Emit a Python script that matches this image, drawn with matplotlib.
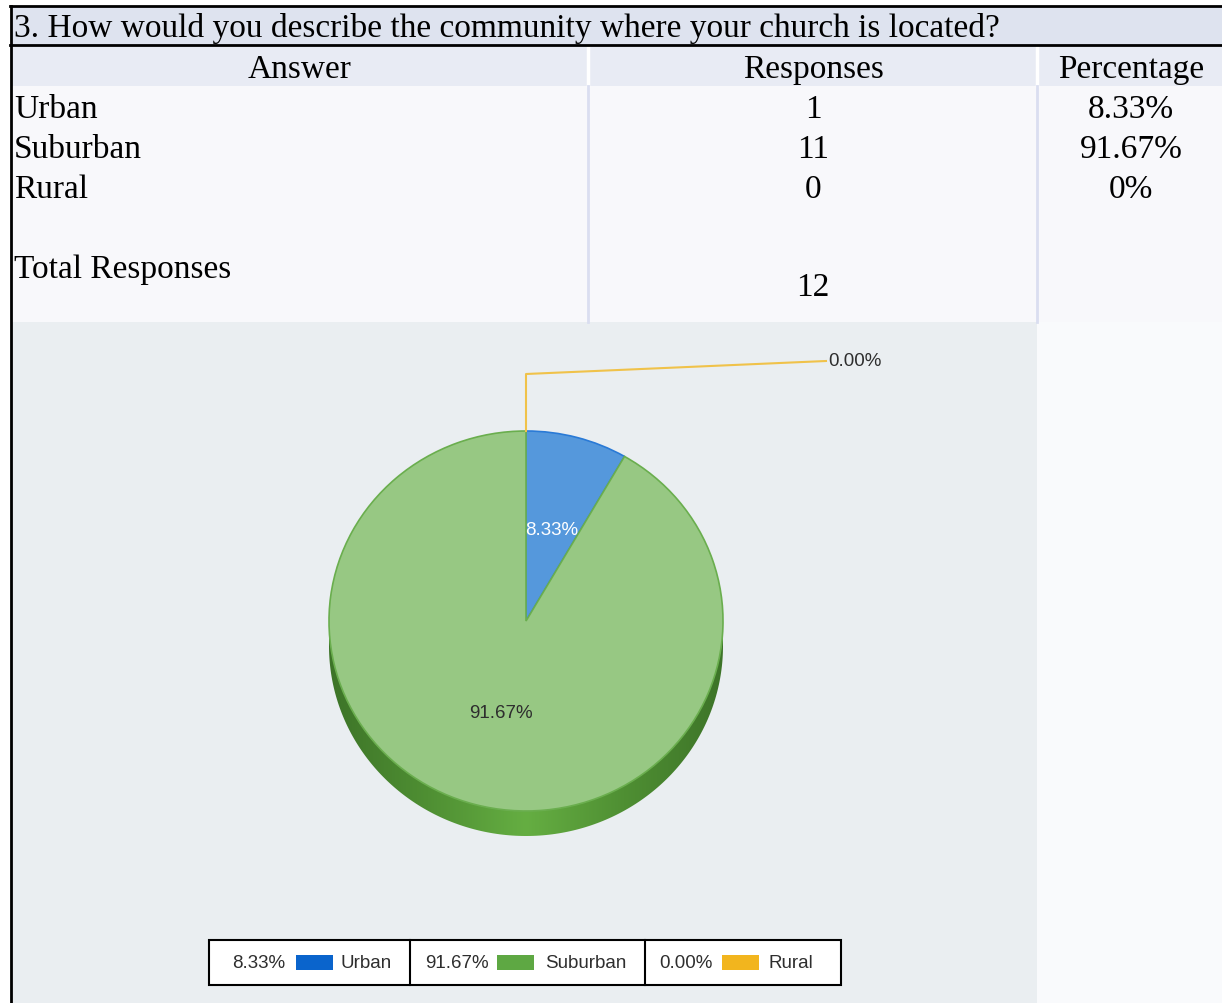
import numpy as np
import matplotlib.pyplot as plt
from matplotlib.patches import Rectangle, Polygon
from matplotlib.colors import LinearSegmentedColormap

question = "3. How would you describe the community where your church is located?"
columns = ["Answer", "Responses", "Percentage"]
answers = ["Urban", "Suburban", "Rural"]
responses = [1, 11, 0]
total = sum(responses)

face_colors = ["#5598dc", "#97c883", "#f3c25a"]
legend_colors = ["#0a64cc", "#5ea843", "#f2b51e"]

W, H = 1222, 1004
SERIF = "Liberation Serif"
SANS = "Liberation Sans"

fig = plt.figure(figsize=(W / 100, H / 100), dpi=100)
ax = fig.add_axes([0, 0, 1, 1])
ax.set_xlim(0, W)
ax.set_ylim(H, 0)
ax.axis("off")

# table backgrounds
ax.add_patch(Rectangle((0, 0), W, H, fc="white", ec="none"))
ax.add_patch(Rectangle((11, 7), W - 11, 39, fc="#dee3ef", ec="none"))
ax.add_patch(Rectangle((12, 47), W - 12, 40, fc="#e8ebf4", ec="none"))
ax.add_patch(Rectangle((12, 87), W - 12, 236, fc="#f8f8fb", ec="none"))
ax.add_patch(Rectangle((1037, 323), W - 1037, H - 323, fc="#f9fafc", ec="none"))
ax.add_patch(Rectangle((12, 323), 1025, H - 323, fc="#eaeef1", ec="none"))
for x in (588, 1037):
    ax.plot([x, x], [47, 87], color="white", lw=2.5)
    ax.plot([x, x], [87, 323], color="#dadef0", lw=2)
ax.plot([10, W], [7, 7], color="black", lw=2)
ax.plot([10, W], [46, 46], color="black", lw=2)
ax.plot([11, 11], [7, H], color="black", lw=2)

# table text
fs = 24
ax.text(14, 29, question, fontsize=fs, family=SERIF, va="center", ha="left")
for label, x in zip(columns, (300, 813, 1131)):
    ax.text(x, 70, label, fontsize=fs, family=SERIF, va="center", ha="center")
for i, (name, n) in enumerate(zip(answers, responses)):
    y = 110 + 40 * i
    pct = round(n / total * 100, 2)
    ax.text(14, y, name, fontsize=fs, family=SERIF, va="center", ha="left")
    ax.text(813, y, str(n), fontsize=fs, family=SERIF, va="center", ha="center")
    ax.text(1131, y, f"{pct:g}%", fontsize=fs, family=SERIF, va="center", ha="center")
ax.text(14, 270, "Total Responses", fontsize=fs, family=SERIF, va="center", ha="left")
ax.text(813, 288, str(total), fontsize=fs, family=SERIF, va="center", ha="center")

# pie chart, slightly flattened face with a shaded rim
cx, cy, rx, ry, depth = 526, 622, 197, 190, 25
half = 260
pax = fig.add_axes([(cx - half) / W, (H - cy - half) / H, 2 * half / W, 2 * half / H])
wedges, texts, autotexts = pax.pie(
    responses, startangle=90, counterclock=False, colors=face_colors,
    autopct=lambda p: f"{p:.2f}%" if p > 0 else "", pctdistance=0.5,
    wedgeprops=dict(linewidth=1.2, edgecolor="#6aae4e"),
    textprops=dict(fontsize=13.5, family=SANS))
wedges[0].set_edgecolor("#2a7ad6")
wedges[2].set_edgecolor("none")
autotexts[0].set_color("white")
autotexts[1].set_color("#2e2e2e")
for w in wedges:
    w.set_zorder(2)
for t in autotexts:
    t.set_zorder(3)

d = depth / ry
t = np.linspace(np.pi, 2 * np.pi, 200)
upper = np.column_stack([np.cos(t), np.sin(t)])
lower = np.column_stack([np.cos(t[::-1]), np.sin(t[::-1]) - d])
rim = Polygon(np.vstack([upper, lower]), closed=True, fc="none", ec="none")
pax.add_patch(rim)
rim_cmap = LinearSegmentedColormap.from_list(
    "rim", ["#3d7428", "#4f8f33", "#65ae42", "#4f8f33", "#3d7428"])
im = pax.imshow(np.linspace(0, 1, 256).reshape(1, -1), cmap=rim_cmap,
                extent=(-1, 1, -1 - d, 0), aspect="auto", zorder=1)
im.set_clip_path(rim)

# leader for the empty Rural slice
ang = np.deg2rad((wedges[2].theta1 + wedges[2].theta2) / 2)
x0, y0 = np.cos(ang), np.sin(ang)
lx, ly = (826 - cx) / rx, (cy - 362) / ry
pax.plot([x0, x0, lx], [y0, (cy - 375) / ry, ly], color="#f0c24a", lw=1.5,
         clip_on=False, zorder=3)
pax.text(lx + 0.01, ly, f"{responses[2] / total * 100:.2f}%", fontsize=13.5,
         family=SANS, color="#2e2e2e", va="center", ha="left", clip_on=False)

pax.set_aspect("auto")
pax.set_xlim(-half / rx, half / rx)
pax.set_ylim(-half / ry, half / ry)
pax.axis("off")

# legend strip
ax.add_patch(Rectangle((209, 941), 632, 45, fc="white", ec="black", lw=1.5))
for x in (410, 645):
    ax.plot([x, x], [941, 986], color="black", lw=1.5)
pct_x = [232, 425, 659]
patch_x = [296, 497, 722]
name_x = [341, 545, 768]
for i, name in enumerate(answers):
    ax.text(pct_x[i], 964, f"{responses[i] / total * 100:.2f}%", fontsize=13.5,
            family=SANS, color="#2e2e2e", va="center", ha="left")
    ax.add_patch(Rectangle((patch_x[i], 956), 37, 15, fc=legend_colors[i], ec="none"))
    ax.text(name_x[i], 964, name, fontsize=13.5, family=SANS, color="#2e2e2e",
            va="center", ha="left")

fig.savefig("out.png", dpi=100)
